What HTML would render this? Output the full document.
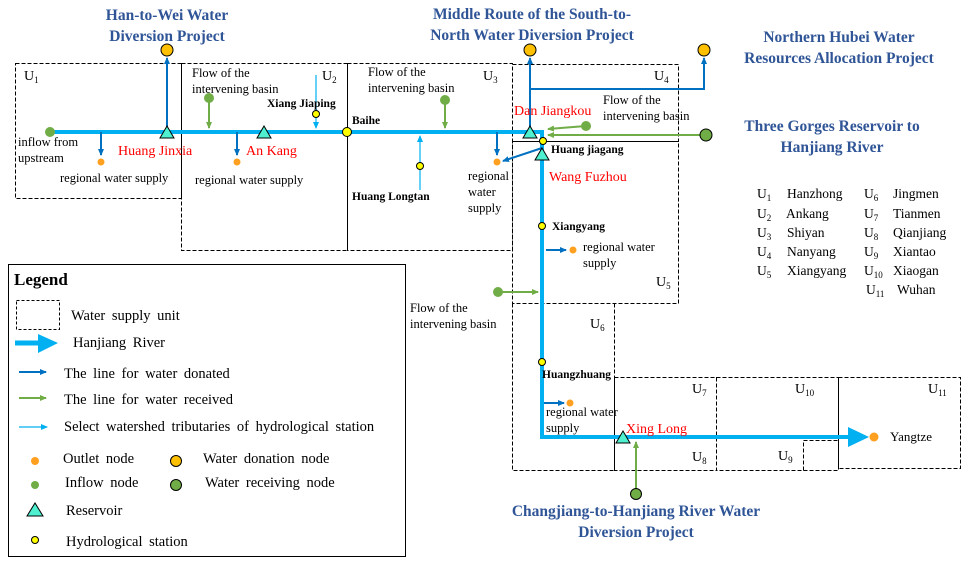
<!DOCTYPE html>
<html><head><meta charset="utf-8"><style>
body{margin:0;background:#fff}
svg{display:block;font-family:"Liberation Serif",serif}
.t{font-size:12.5px}
.b{font-weight:bold;font-size:11.5px}
.r{fill:#ff0000;font-size:14px}
.h{fill:#2f5597;font-weight:bold;font-size:15.5px}
.u{font-size:14px}
.l{font-size:14.5px;word-spacing:3px}
</style></head><body>
<svg width="969" height="563" viewBox="0 0 969 563">
<defs>
<marker id="ad" markerWidth="8" markerHeight="8" refX="6" refY="3" orient="auto" markerUnits="userSpaceOnUse"><path d="M0,0L7,3L0,6z" fill="#0070c0"/></marker>
<marker id="ag" markerWidth="8" markerHeight="8" refX="6" refY="3" orient="auto" markerUnits="userSpaceOnUse"><path d="M0,0L7,3L0,6z" fill="#70ad47"/></marker>
<marker id="al" markerWidth="8" markerHeight="8" refX="6" refY="3" orient="auto" markerUnits="userSpaceOnUse"><path d="M0,0L7,3L0,6z" fill="#00b0f0"/></marker>
</defs>
<g fill="none" stroke="#000" stroke-width="1" stroke-dasharray="4,2">
<rect x="15.5" y="63.5" width="166" height="135"/>
<rect x="181.5" y="63.5" width="166" height="187"/>
<rect x="347.5" y="63.5" width="165" height="187"/>
<rect x="512.5" y="64.5" width="166" height="77"/>
<rect x="512.5" y="141.5" width="166" height="162"/>
<path d="M512.5,303.5V470.5H614.5V303.5"/>
<rect x="614.5" y="377.5" width="102" height="93"/>
<rect x="716.5" y="377.5" width="122" height="93"/>
<path d="M803.5,470.5V440.5H838.5"/>
<rect x="838.5" y="377.5" width="122" height="91"/>
</g>
<path d="M50,132H542V437H850" fill="none" stroke="#00b0f0" stroke-width="4"/>
<path d="M848,427L869,437L848,447z" fill="#00b0f0"/>
<g stroke="#0070c0" stroke-width="2" fill="none">
<path d="M167,132V58" marker-end="url(#ad)"/>
<path d="M530,132V58" marker-end="url(#ad)"/>
<path d="M530,89H704V58" marker-end="url(#ad)"/>
<path d="M101,132V155" marker-end="url(#ad)"/>
<path d="M237,132V155" marker-end="url(#ad)"/>
<path d="M497,132V155" marker-end="url(#ad)"/>
<path d="M542,148L503,161" marker-end="url(#ad)"/>
<path d="M546,250H566" marker-end="url(#ad)"/>
<path d="M544,403H564" marker-end="url(#ad)"/>
</g>
<g stroke="#70ad47" stroke-width="2" fill="none">
<path d="M209,98V128" marker-end="url(#ag)"/>
<path d="M445,100V128" marker-end="url(#ag)"/>
<path d="M586,126L548,129" marker-end="url(#ag)"/>
<path d="M706,135H548" marker-end="url(#ag)"/>
<path d="M498,292H538" marker-end="url(#ag)"/>
<path d="M636,494V442" marker-end="url(#ag)"/>
</g>
<g stroke="#00b0f0" stroke-width="1.2" fill="none">
<path d="M316,75V128" marker-end="url(#al)"/>
<path d="M420,190V136" marker-end="url(#al)"/>
</g>
<g stroke="#000" stroke-width="1">
<circle cx="167" cy="50" r="6" fill="#ffc000"/>
<circle cx="530" cy="50" r="6" fill="#ffc000"/>
<circle cx="704" cy="50" r="6" fill="#ffc000"/>
<circle cx="706" cy="135" r="6" fill="#70ad47"/>
<circle cx="636" cy="494" r="5.5" fill="#70ad47"/>
<circle cx="316" cy="114" r="3.5" fill="#ffff00"/>
<circle cx="420" cy="166" r="3.5" fill="#ffff00"/>
<circle cx="347" cy="132" r="4.5" fill="#ffff00"/>
<circle cx="543" cy="141" r="3.5" fill="#ffff00"/>
<circle cx="542" cy="226" r="3.5" fill="#ffff00"/>
<circle cx="542" cy="362" r="3.5" fill="#ffff00"/>
<path d="M160,138L167,126L174,138z" fill="#4ff0d0"/>
<path d="M257,138L264,126L271,138z" fill="#4ff0d0"/>
<path d="M523,138L530,126L537,138z" fill="#4ff0d0"/>
<path d="M535,160L542,148L549,160z" fill="#4ff0d0"/>
<path d="M616,443L623,431L630,443z" fill="#4ff0d0"/>
</g>
<g fill="#70ad47">
<circle cx="50" cy="132" r="5"/><circle cx="209" cy="98" r="5"/><circle cx="445" cy="100" r="5"/><circle cx="586" cy="126" r="5"/><circle cx="498" cy="292" r="5"/>
</g>
<g fill="#ffa020">
<circle cx="101" cy="162" r="3.5"/><circle cx="237" cy="162" r="3.5"/><circle cx="497" cy="162" r="3.5"/><circle cx="573" cy="250" r="3.5"/><circle cx="570" cy="403" r="3.5"/><circle cx="874" cy="437" r="4.5"/>
</g>
<g class="t">
<text x="18" y="146">inflow from</text><text x="18" y="162">upstream</text>
<text x="60" y="182">regional water supply</text>
<text x="192" y="77">Flow of the</text><text x="192" y="93">intervening basin</text>
<text x="195" y="184">regional water supply</text>
<text x="368" y="76">Flow of the</text><text x="368" y="92">intervening basin</text>
<text x="468" y="180">regional</text><text x="468" y="196">water</text><text x="468" y="212">supply</text>
<text x="603" y="104">Flow of the</text><text x="603" y="120">intervening basin</text>
<text x="583" y="251">regional water</text><text x="583" y="267">supply</text>
<text x="410" y="312">Flow of the</text><text x="410" y="328">intervening basin</text>
<text x="546" y="416">regional water</text><text x="546" y="432">supply</text>
</g>
<g class="b">
<text x="267" y="107">Xiang Jiaping</text>
<text x="352" y="124">Baihe</text>
<text x="352" y="200">Huang Longtan</text>
<text x="551" y="153">Huang jiagang</text>
<text x="552" y="230">Xiangyang</text>
<text x="542" y="378">Huangzhuang</text>
</g>
<g class="r">
<text x="118" y="155">Huang  Jinxia</text>
<text x="246" y="155">An Kang</text>
<text x="514" y="115">Dan Jiangkou</text>
<text x="549" y="181">Wang Fuzhou</text>
<text x="626" y="433">Xing  Long</text>
</g>
<g class="u">
<text x="24" y="80">U<tspan font-size="9" dy="3">1</tspan></text>
<text x="322" y="80">U<tspan font-size="9" dy="3">2</tspan></text>
<text x="483" y="80">U<tspan font-size="9" dy="3">3</tspan></text>
<text x="654" y="80">U<tspan font-size="9" dy="3">4</tspan></text>
<text x="656" y="286">U<tspan font-size="9" dy="3">5</tspan></text>
<text x="590" y="328">U<tspan font-size="9" dy="3">6</tspan></text>
<text x="692" y="393">U<tspan font-size="9" dy="3">7</tspan></text>
<text x="692" y="461">U<tspan font-size="9" dy="3">8</tspan></text>
<text x="778" y="460">U<tspan font-size="9" dy="3">9</tspan></text>
<text x="795" y="393">U<tspan font-size="9" dy="3">10</tspan></text>
<text x="928" y="393">U<tspan font-size="9" dy="3">11</tspan></text>
<text x="890" y="441" font-size="13">Yangtze</text>
</g>
<g class="h" text-anchor="middle">
<text x="167" y="20">Han-to-Wei Water</text><text x="167" y="41">Diversion Project</text>
<text x="532" y="19">Middle Route of the South-to-</text><text x="532" y="40">North Water Diversion Project</text>
<text x="839" y="42">Northern Hubei Water</text><text x="839" y="63">Resources Allocation Project</text>
<text x="832" y="131">Three Gorges Reservoir to</text><text x="832" y="152">Hanjiang River</text>
<text x="636" y="516">Changjiang-to-Hanjiang  River Water</text><text x="636" y="537">Diversion Project</text>
</g>
<g font-size="13.5">
<text x="757" y="198">U<tspan font-size="9" dy="3">1</tspan><tspan dy="-3" x="787">Hanzhong</tspan></text>
<text x="757" y="218">U<tspan font-size="9" dy="3">2</tspan><tspan dy="-3" x="786">Ankang</tspan></text>
<text x="757" y="237">U<tspan font-size="9" dy="3">3</tspan><tspan dy="-3" x="787">Shiyan</tspan></text>
<text x="757" y="256">U<tspan font-size="9" dy="3">4</tspan><tspan dy="-3" x="787">Nanyang</tspan></text>
<text x="757" y="275">U<tspan font-size="9" dy="3">5</tspan><tspan dy="-3" x="787">Xiangyang</tspan></text>
<text x="864" y="198">U<tspan font-size="9" dy="3">6</tspan><tspan dy="-3" x="893">Jingmen</tspan></text>
<text x="864" y="218">U<tspan font-size="9" dy="3">7</tspan><tspan dy="-3" x="893">Tianmen</tspan></text>
<text x="864" y="237">U<tspan font-size="9" dy="3">8</tspan><tspan dy="-3" x="893">Qianjiang</tspan></text>
<text x="864" y="256">U<tspan font-size="9" dy="3">9</tspan><tspan dy="-3" x="893">Xiantao</tspan></text>
<text x="864" y="275">U<tspan font-size="9" dy="3">10</tspan><tspan dy="-3" x="893">Xiaogan</tspan></text>
<text x="866" y="294">U<tspan font-size="9" dy="3">11</tspan><tspan dy="-3" x="897">Wuhan</tspan></text>
</g>
<rect x="8.5" y="264.5" width="397" height="292" fill="none" stroke="#000" stroke-width="1"/>
<text x="14" y="285" font-weight="bold" font-size="17">Legend</text>
<rect x="16.5" y="300.5" width="43" height="29" fill="none" stroke="#000" stroke-dasharray="3,2"/>
<path d="M15,343H42" stroke="#00b0f0" stroke-width="5"/>
<path d="M38,334L58,343L38,353z" fill="#00b0f0"/>
<path d="M19,372H46" stroke="#0070c0" stroke-width="2" marker-end="url(#ad)"/>
<path d="M19,398H46" stroke="#70ad47" stroke-width="2" marker-end="url(#ag)"/>
<path d="M19,427H47" stroke="#00b0f0" stroke-width="1.2" marker-end="url(#al)"/>
<circle cx="35" cy="461" r="4" fill="#ffa020"/>
<circle cx="176" cy="461" r="5.5" fill="#ffc000" stroke="#000"/>
<circle cx="35" cy="485" r="4" fill="#70ad47"/>
<circle cx="176" cy="485" r="5.5" fill="#70ad47" stroke="#000"/>
<path d="M27,516L35,503L43,516z" fill="#4ff0d0" stroke="#000"/>
<circle cx="35" cy="540" r="3.5" fill="#ffff00" stroke="#000"/>
<g class="l">
<text x="71" y="320">Water supply unit</text>
<text x="73" y="347">Hanjiang River</text>
<text x="64" y="378">The line for water donated</text>
<text x="64" y="404">The line for water received</text>
<text x="64" y="431">Select watershed tributaries of hydrological station</text>
<text x="63" y="463">Outlet node</text>
<text x="203" y="463">Water donation node</text>
<text x="65" y="487">Inflow node</text>
<text x="205" y="487">Water receiving node</text>
<text x="66" y="515">Reservoir</text>
<text x="66" y="546">Hydrological station</text>
</g>
</svg>
</body></html>
